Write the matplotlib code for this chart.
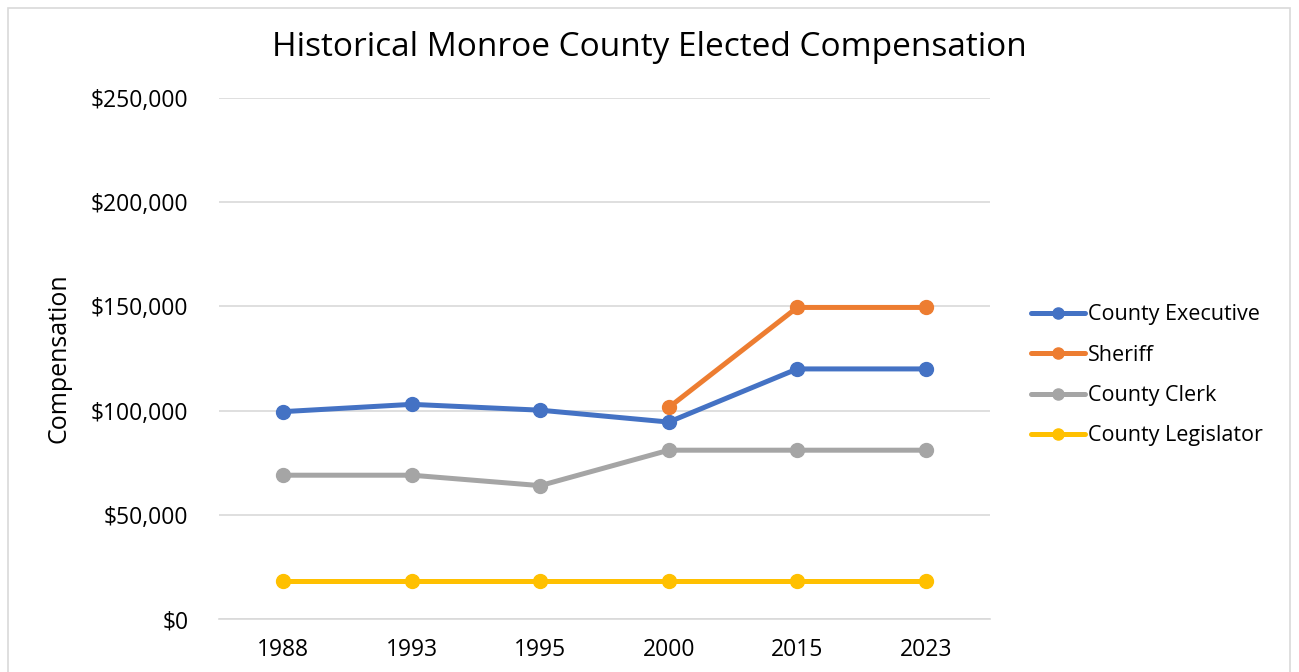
import matplotlib
matplotlib.use("Agg")
import matplotlib.pyplot as plt
from matplotlib.patches import Rectangle
from matplotlib.ticker import FuncFormatter

years = ["1988", "1993", "1995", "2000", "2015", "2023"]
county_executive = [99500, 103000, 100200, 94500, 120000, 120000]
sheriff = [None, None, None, 101500, 149500, 149500]
county_clerk = [69000, 69000, 64000, 81000, 81000, 81000]
county_legislator = [18000, 18000, 18000, 18000, 18000, 18000]

series = [
    ("County Executive", county_executive, "#4472C4"),
    ("Sheriff", sheriff, "#ED7D31"),
    ("County Clerk", county_clerk, "#A5A5A5"),
    ("County Legislator", county_legislator, "#FFC000"),
]

plt.rcParams['font.family'] = ['Open Sans', 'DejaVu Sans']

fig = plt.figure(figsize=(12.99, 6.72), dpi=100)
fig.patches.append(Rectangle((8/1299, -0.1), (1290-8)/1299, (672-8)/672 + 0.1,
                             transform=fig.transFigure, fill=False,
                             edgecolor="#D9D9D9", linewidth=1.2))
ax = fig.add_axes([219/1299, 53/672, 771/1299, 521/672])

x = list(range(len(years)))
for name, vals, color in series:
    xs = [xi for xi, v in zip(x, vals) if v is not None]
    ys = [v for v in vals if v is not None]
    ax.plot(xs, ys, color=color, linewidth=3.6, marker="o", markersize=10,
            label=name, solid_capstyle="round", zorder=3)

ax.set_xlim(-0.5, len(years) - 0.5)
ax.set_ylim(0, 250000)
ax.set_yticks(range(0, 250001, 50000))
ax.yaxis.set_major_formatter(FuncFormatter(lambda v, p: f"${int(v):,}"))
ax.set_xticks(x)
ax.set_xticklabels(years)
ax.grid(axis="y", color="#D9D9D9", linewidth=1.2)
ax.set_axisbelow(True)
for s in ["top", "right", "left"]:
    ax.spines[s].set_visible(False)
ax.spines["bottom"].set_color("#D9D9D9")
ax.spines["bottom"].set_linewidth(1.2)
ax.tick_params(axis="both", length=0, labelsize=16.5, colors="#000000")
ax.tick_params(axis="y", pad=22)
ax.tick_params(axis="x", pad=14)
ax.set_ylabel("Compensation", fontsize=18, labelpad=14)

fig.text(0.5, 1 - 47/672, "Historical Monroe County Elected Compensation",
         ha="center", va="center", fontsize=24)

leg = ax.legend(loc="upper left", bbox_to_anchor=(1012/1299, 1 - 285/672),
                bbox_transform=fig.transFigure, frameon=False, fontsize=15.5,
                handlelength=2.5, handletextpad=0.15, labelspacing=0.9,
                markerscale=0.8)

fig.savefig("out.png", dpi=100)
